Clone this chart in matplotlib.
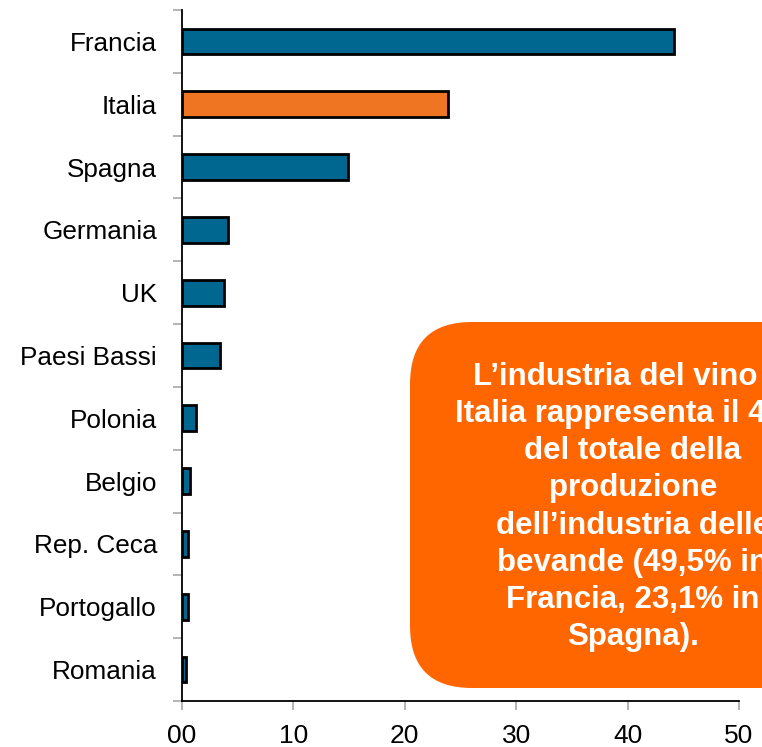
import matplotlib
matplotlib.use("Agg")
import matplotlib.pyplot as plt
from matplotlib.patches import FancyBboxPatch
from matplotlib.ticker import FixedLocator

countries = ["Francia", "Italia", "Spagna", "Germania", "UK", "Paesi Bassi",
             "Polonia", "Belgio", "Rep. Ceca", "Portogallo", "Romania"]
values = [44.2, 23.9, 14.9, 4.1, 3.8, 3.4, 1.25, 0.75, 0.55, 0.5, 0.35]
highlight = "Italia"
xticks = [0, 10, 20, 30, 40, 50]
xtick_labels = ["00", "10", "20", "30", "40", "50"]
note_lines = ["L\u2019industria del vino in",
              "Italia rappresenta il 4_%",
              "del totale della",
              "produzione",
              "dell\u2019industria delle",
              "bevande (49,5% in",
              "Francia, 23,1% in",
              "Spagna)."]

BLUE = "#006890"
ORANGE_BAR = "#F07522"
ORANGE_BOX = "#FF6600"

plt.rcParams['font.family'] = ['Liberation Sans', 'DejaVu Sans']

W, H = 762, 747
fig = plt.figure(figsize=(W / 100, H / 100), dpi=100)
ax = fig.add_axes([182 / W, 1 - 701 / H, (739 - 182) / W, (701 - 10) / H])

n = len(countries)
ypos = list(range(n))
colors = [ORANGE_BAR if c == highlight else BLUE for c in countries]
ax.barh(ypos, values, height=0.41, color=colors, edgecolor="black", linewidth=2.0, zorder=3)

ax.set_ylim(n - 0.5, -0.5)
ax.set_xlim(0, 50)
ax.set_yticks(ypos)
ax.set_yticklabels(countries, fontsize=18.8)
ax.yaxis.set_minor_locator(FixedLocator([i - 0.5 for i in range(n + 1)]))
ax.tick_params(axis="y", which="major", length=0, pad=18)
ax.tick_params(axis="y", which="minor", length=6.5, width=1.2, color="#a8a8a8", direction="out")
ax.set_xticks(xticks)
ax.set_xticklabels(xtick_labels, fontsize=19)
ax.tick_params(axis="x", which="major", length=6.5, width=1.2, color="#a8a8a8", pad=10)

for s in ["top", "right"]:
    ax.spines[s].set_visible(False)
for s in ["left", "bottom"]:
    ax.spines[s].set_linewidth(1.3)
    ax.spines[s].set_color("black")

# Annotation box (figure pixel coordinates -> fraction)
x0, y0, x1, y1 = 410, 322, 856, 688
r = 62
box = FancyBboxPatch(((x0 + r) / W, 1 - (y1 - r) / H),
                     (x1 - x0 - 2 * r) / W, (y1 - y0 - 2 * r) / H,
                     boxstyle=f"round,pad={r / W},rounding_size={r / W}",
                     transform=fig.transFigure, facecolor=ORANGE_BOX,
                     edgecolor="none", zorder=10, mutation_aspect=W / H)
fig.patches.append(box)

fig.text(633 / W, 1 - 507 / H, "\n".join(note_lines), ha="center", va="center",
         color="white", fontsize=22.5, fontweight="bold", linespacing=1.31,
         zorder=11)

fig.savefig("out.png", dpi=100)
